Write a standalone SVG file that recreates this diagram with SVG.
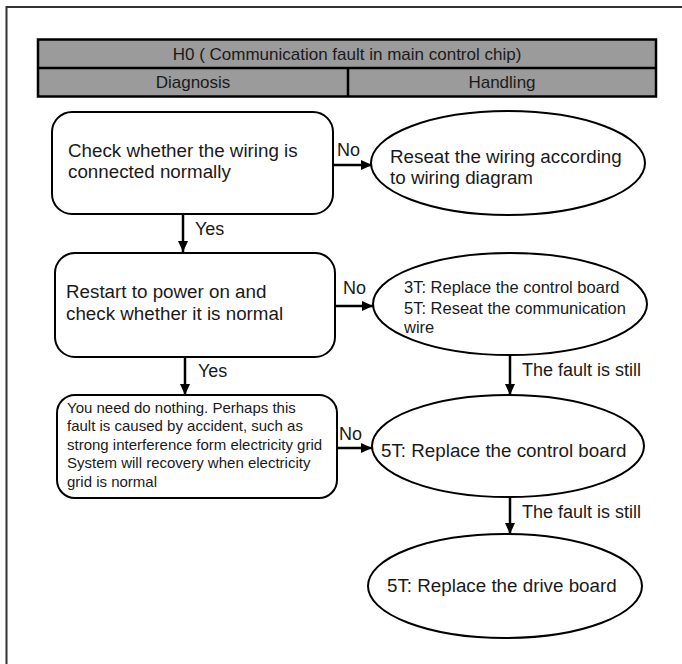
<svg xmlns="http://www.w3.org/2000/svg" width="682" height="664" viewBox="0 0 682 664">
<defs>
<style>
text{font-family:"Liberation Sans",Arial,sans-serif;fill:#1a1a1a}
.node{fill:#fff;stroke:#000;stroke-width:2}
.conn{stroke:#000;stroke-width:2.5;fill:none;marker-end:url(#ah)}
.tm{font-size:18.8px}
.th{font-size:17px}
.te2{font-size:16.5px}
.tn3{font-size:15px}
.tl{font-size:18px}
.hdr{fill:#9b9b9b;stroke:#000;stroke-width:2.5}
</style>
<marker id="ah" markerUnits="userSpaceOnUse" markerWidth="11" markerHeight="10" refX="11" refY="5" orient="auto">
<path d="M0,0 L11,5 L0,10 z" fill="#000"/>
</marker>
</defs>
<rect x="6.5" y="7" width="700" height="700" fill="none" stroke="#333" stroke-width="2"/>
<g id="header">
<rect class="hdr" x="38" y="39.5" width="618" height="57"/>
<line x1="38" y1="68" x2="656" y2="68" stroke="#000" stroke-width="2.5"/>
<line x1="348" y1="68" x2="348" y2="96" stroke="#000" stroke-width="2.5"/>
<text class="th" x="347" y="60" text-anchor="middle">H0 ( Communication fault in main control chip)</text>
<text class="th" x="193" y="88" text-anchor="middle">Diagnosis</text>
<text class="th" x="502" y="88" text-anchor="middle">Handling</text>
</g>
<g id="n1">
<rect class="node" x="52" y="112" width="281" height="102" rx="20"/>
<text class="tm" x="68" y="157">Check whether the wiring is</text>
<text class="tm" x="68" y="178">connected normally</text>
</g>
<g id="e1">
<ellipse class="node" cx="508" cy="163" rx="137" ry="52"/>
<text class="tm" x="390" y="163">Reseat the wiring according</text>
<text class="tm" x="390" y="184">to wiring diagram</text>
</g>
<g id="n2">
<rect class="node" x="55" y="253" width="280" height="104" rx="20"/>
<text class="tm" x="66" y="298">Restart to power on and</text>
<text class="tm" x="66" y="320">check whether it is normal</text>
</g>
<g id="e2">
<ellipse class="node" cx="510" cy="304" rx="137" ry="51"/>
<text class="te2" x="404" y="293">3T: Replace the control board</text>
<text class="te2" x="404" y="314">5T: Reseat the communication</text>
<text class="te2" x="404" y="333">wire</text>
</g>
<g id="n3">
<rect class="node" x="57" y="395" width="280" height="103" rx="18"/>
<text class="tn3" x="67" y="413">You need do nothing. Perhaps this</text>
<text class="tn3" x="67" y="431">fault is caused by accident, such as</text>
<text class="tn3" x="67" y="450">strong interference form electricity grid</text>
<text class="tn3" x="67" y="468">System will recovery when electricity</text>
<text class="tn3" x="67" y="487">grid is normal</text>
</g>
<g id="e3">
<ellipse class="node" cx="508" cy="446" rx="136" ry="51"/>
<text class="tm" x="381" y="457">5T: Replace the control board</text>
</g>
<g id="e4">
<ellipse class="node" cx="505" cy="586" rx="137" ry="52"/>
<text class="tm" x="387" y="592">5T: Replace the drive board</text>
</g>
<g id="connectors">
<line class="conn" x1="333" y1="165" x2="372" y2="165"/>
<text class="tl" x="337" y="156">No</text>
<line class="conn" x1="183" y1="214" x2="183" y2="252"/>
<text class="tl" x="195" y="235">Yes</text>
<line class="conn" x1="335" y1="306" x2="373" y2="306"/>
<text class="tl" x="343" y="294">No</text>
<line class="conn" x1="185" y1="357" x2="185" y2="395"/>
<text class="tl" x="198" y="377">Yes</text>
<line class="conn" x1="337" y1="448" x2="372" y2="448"/>
<text class="tl" x="339" y="440">No</text>
<line class="conn" x1="510" y1="355" x2="510" y2="395"/>
<text class="tl" x="522" y="376">The fault is still</text>
<line class="conn" x1="510" y1="497" x2="510" y2="534"/>
<text class="tl" x="522" y="518">The fault is still</text>
</g>
</svg>
